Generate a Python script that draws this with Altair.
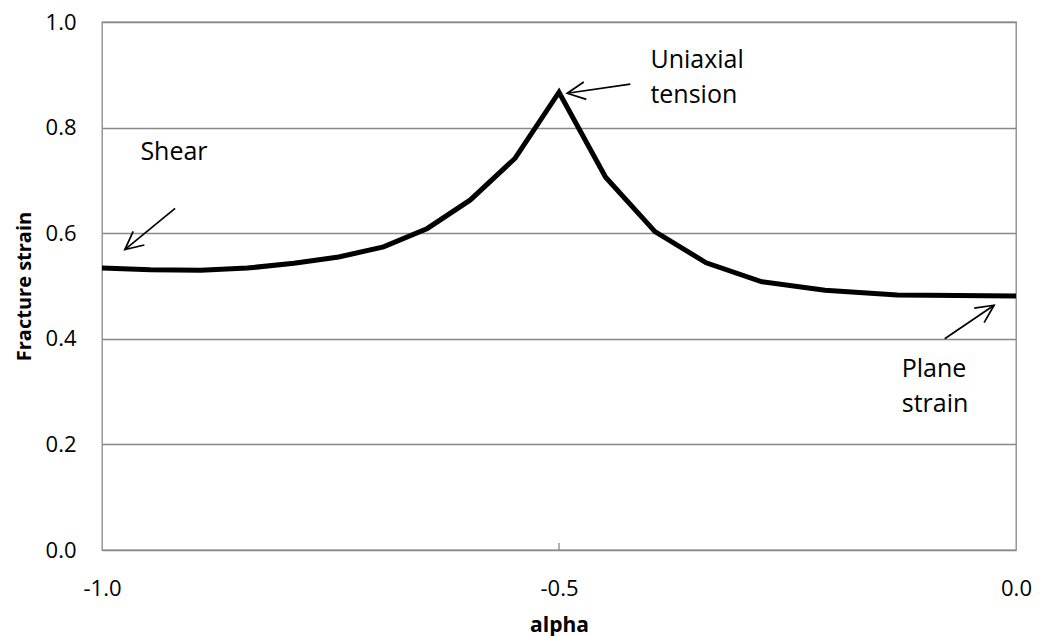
import math
import altair as alt
import pandas as pd

# ---- data ----
alpha = [-1.000, -0.947, -0.892, -0.841, -0.790, -0.741, -0.692, -0.644, -0.597,
         -0.548, -0.500, -0.449, -0.395, -0.339, -0.278, -0.209, -0.130, 0.000]
strain = [0.534, 0.531, 0.530, 0.534, 0.543, 0.555, 0.574, 0.609, 0.663,
          0.742, 0.867, 0.706, 0.603, 0.544, 0.508, 0.492, 0.483, 0.481]

x_ticks = [-1.0, -0.5, 0.0]
y_ticks = [0.0, 0.2, 0.4, 0.6, 0.8, 1.0]

note_text = ["Shear", "Uniaxial", "tension", "Plane", "strain"]
note_x = [-0.958, -0.400, -0.400, -0.125, -0.125]
note_y = [0.738, 0.913, 0.847, 0.327, 0.261]

arrow_x0 = [-0.920, -0.422, -0.078]
arrow_y0 = [0.647, 0.8825, 0.400]
arrow_x1 = [-0.975, -0.491, -0.024]
arrow_y1 = [0.569, 0.865, 0.4635]

# ---- layout ----
W, H = 914, 528
FONT = "Open Sans"
GRID = "#888888"
LABEL_EXPR = "(datum.value < 0 ? '-' : '') + format(abs(datum.value), '.1f')"

df = pd.DataFrame({"alpha": alpha, "strain": strain})
notes = pd.DataFrame({"text": note_text, "x": note_x, "y": note_y})

angles = []
for x0, y0, x1, y1 in zip(arrow_x0, arrow_y0, arrow_x1, arrow_y1):
    dxp = (x1 - x0) * W
    dyp = -(y1 - y0) * H
    angles.append(math.degrees(math.atan2(dxp, -dyp)) % 360)
arrows = pd.DataFrame({"x0": arrow_x0, "y0": arrow_y0, "x1": arrow_x1,
                       "y1": arrow_y1, "angle": angles})

xs = alt.Scale(domain=[-1, 0], nice=False, zero=False)
ys = alt.Scale(domain=[0, 1], nice=False)

line = alt.Chart(df).mark_line(color="black", strokeWidth=5, strokeJoin="miter",
                               strokeCap="butt").encode(
    x=alt.X("alpha:Q", scale=xs,
            axis=alt.Axis(values=x_ticks, labelExpr=LABEL_EXPR, title="alpha",
                          grid=False, ticks=False, domain=False,
                          labelFont=FONT, labelFontSize=22, labelColor="black",
                          labelPadding=28, labelFlush=False,
                          titleFont=FONT, titleFontSize=21, titleFontWeight="bold",
                          titleColor="black", titleY=81, titleBaseline="alphabetic")),
    y=alt.Y("strain:Q", scale=ys,
            axis=alt.Axis(values=y_ticks, labelExpr=LABEL_EXPR, title="Fracture strain",
                          grid=True, gridColor=GRID, gridWidth=1.3,
                          ticks=False, domain=False,
                          labelFont=FONT, labelFontSize=22, labelColor="black",
                          labelPadding=26, labelFlush=False,
                          titleFont=FONT, titleFontSize=20, titleFontWeight="bold",
                          titleColor="black", titleX=-72, titleBaseline="alphabetic")),
)

tick = alt.Chart(pd.DataFrame({"t": [x_ticks[1]]})).mark_rule(
    color=GRID, strokeWidth=1.3).encode(
    x=alt.X("t:Q", scale=xs), y=alt.value(H - 7), y2=alt.value(H))

text = alt.Chart(notes).mark_text(font=FONT, fontSize=25, align="left",
                                  baseline="alphabetic", color="black").encode(
    x=alt.X("x:Q", scale=xs), y=alt.Y("y:Q", scale=ys), text="text:N")

shaft = alt.Chart(arrows).mark_rule(color="black", strokeWidth=1.7).encode(
    x=alt.X("x0:Q", scale=xs), y=alt.Y("y0:Q", scale=ys),
    x2="x1:Q", y2="y1:Q")

head = alt.Chart(arrows).mark_point(
    shape="M-0.44,0.9L0,0L0.44,0.9", size=1600, filled=False, color="black",
    strokeWidth=1.7, opacity=1).encode(
    x=alt.X("x1:Q", scale=xs), y=alt.Y("y1:Q", scale=ys),
    angle=alt.Angle("angle:Q", scale=None))

chart = alt.layer(line, tick, shaft, head, text).properties(
    width=W, height=H,
    autosize=alt.AutoSizeParams(type="none"),
    padding={"left": 102, "top": 22, "right": 25, "bottom": 86},
    background="white",
).configure_view(stroke=GRID, strokeWidth=1.3)

chart.save("out.html", embed_options={"renderer": "svg", "actions": False})
